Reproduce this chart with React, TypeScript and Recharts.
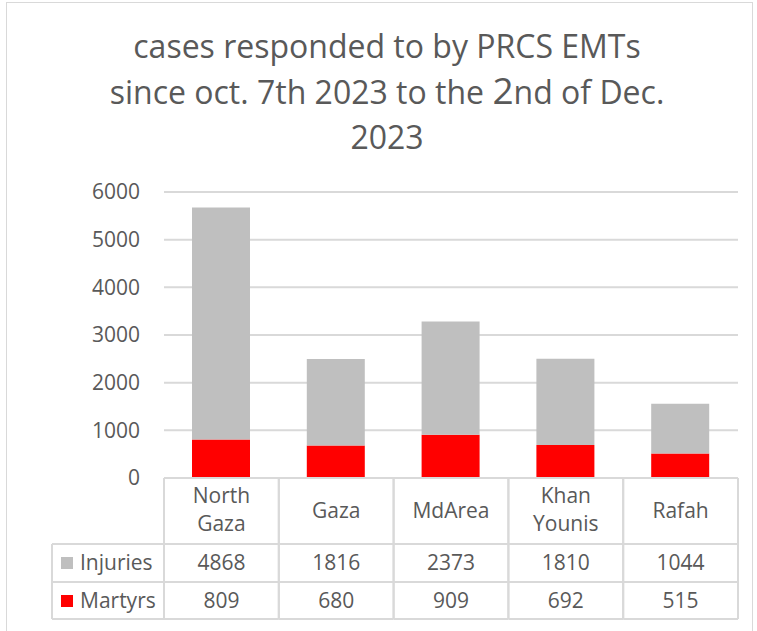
import { BarChart, Bar, XAxis, YAxis, CartesianGrid } from "recharts";

const regions = ["North Gaza", "Gaza", "MdArea", "Khan Younis", "Rafah"];
const injuries = [4868, 1816, 2373, 1810, 1044];
const martyrs = [809, 680, 909, 692, 515];
const yTicks = [0, 1000, 2000, 3000, 4000, 5000, 6000];

const titleLine1 = "cases responded to by PRCS EMTs";
const titleLine3 = "2023";

const W = 757;
const H = 631;
const MARGIN = { top: 192, right: 19, bottom: 13, left: 0 };
const Y_AXIS_W = 164;
const X_AXIS_H = 140;
const BAND = (W - MARGIN.left - MARGIN.right - Y_AXIS_W) / regions.length;

const TEXT = "#595959";
const GRID = "#d9d9d9";
const GRAY = "#bfbfbf";
const RED = "#ff0000";
const FONT = "'Open Sans', sans-serif";

const data = regions.map((name, i) => ({
  name,
  injuries: injuries[i],
  martyrs: martyrs[i],
}));

function TableTick(props: any) {
  const { x, y, index, payload } = props;
  const left = x - BAND / 2;
  const right = x + BAND / 2;
  const r1 = y + 66;
  const r2 = y + 104;
  const r3 = y + 141;
  const lines = String(payload.value).split(" ");
  const row = data[index];
  const txt = { fill: TEXT, fontSize: 21, fontFamily: FONT, textAnchor: "middle" as const };

  return (
    <g>
      <line x1={left} y1={y} x2={left} y2={r3} stroke={GRID} strokeWidth={2} />
      <line x1={right} y1={y} x2={right} y2={r3} stroke={GRID} strokeWidth={2} />
      <line x1={left} y1={r1} x2={right} y2={r1} stroke={GRID} strokeWidth={2} />
      <line x1={left} y1={r2} x2={right} y2={r2} stroke={GRID} strokeWidth={2} />
      <line x1={left} y1={r3} x2={right} y2={r3} stroke={GRID} strokeWidth={2} />
      {lines.length > 1 ? (
        lines.map((l, k) => (
          <text key={k} x={x} y={y + 25 + k * 28} {...txt}>
            {l}
          </text>
        ))
      ) : (
        <text x={x} y={y + 40} {...txt}>
          {lines[0]}
        </text>
      )}
      <text x={x} y={y + 92} {...txt}>
        {row.injuries}
      </text>
      <text x={x} y={y + 130} {...txt}>
        {row.martyrs}
      </text>
      {index === 0 && (
        <g>
          <line x1={left - 112} y1={r1} x2={left} y2={r1} stroke={GRID} strokeWidth={2} />
          <line x1={left - 112} y1={r2} x2={left} y2={r2} stroke={GRID} strokeWidth={2} />
          <line x1={left - 112} y1={r3} x2={left} y2={r3} stroke={GRID} strokeWidth={2} />
          <line x1={left - 112} y1={r1} x2={left - 112} y2={r3} stroke={GRID} strokeWidth={2} />
          <rect x={left - 103} y={r1 + 13} width={12} height={12} fill={GRAY} />
          <text x={left - 84} y={y + 92} fill={TEXT} fontSize={21} fontFamily={FONT}>
            Injuries
          </text>
          <rect x={left - 103} y={r2 + 13} width={12} height={12} fill={RED} />
          <text x={left - 84} y={y + 130} fill={TEXT} fontSize={21} fontFamily={FONT}>
            Martyrs
          </text>
        </g>
      )}
    </g>
  );
}

export default function App() {
  return (
    <div
      style={{
        position: "absolute",
        left: 0,
        top: 0,
        width: W,
        height: H,
        overflow: "hidden",
        background: "#fff",
      }}
    >
      <div
        style={{
          position: "absolute",
          left: 6,
          top: 2,
          width: 745,
          height: 700,
          border: `1px solid ${GRID}`,
        }}
      />
      <svg
        width={W}
        height={170}
        style={{ position: "absolute", left: 0, top: 0 }}
      >
        <g fill={TEXT} fontFamily={FONT} fontSize={32} textAnchor="middle">
          <text x={387} y={58}>
            {titleLine1}
          </text>
          <text x={387} y={104}>
            since oct. 7th 2023 to the <tspan fontSize={37}>2</tspan>nd of Dec.
          </text>
          <text x={387} y={149}>
            {titleLine3}
          </text>
        </g>
      </svg>
      <div style={{ position: "absolute", left: 0, top: 0 }}>
        <BarChart width={W} height={H} data={data} margin={MARGIN}>
          <CartesianGrid vertical={false} stroke={GRID} strokeWidth={2} />
          <YAxis
            width={Y_AXIS_W}
            domain={[0, 6000]}
            ticks={yTicks}
            axisLine={false}
            tickLine={false}
            tickSize={0}
            tickMargin={24}
            tick={{ fill: TEXT, fontSize: 21, fontFamily: FONT }}
          />
          <XAxis
            dataKey="name"
            height={X_AXIS_H}
            interval={0}
            axisLine={{ stroke: GRID, strokeWidth: 2 }}
            tickLine={false}
            tickSize={0}
            tickMargin={0}
            tick={(p: any) => <TableTick {...p} />}
          />
          <Bar dataKey="martyrs" stackId="a" fill={RED} barSize={58} isAnimationActive={false} />
          <Bar dataKey="injuries" stackId="a" fill={GRAY} barSize={58} isAnimationActive={false} />
        </BarChart>
      </div>
    </div>
  );
}
